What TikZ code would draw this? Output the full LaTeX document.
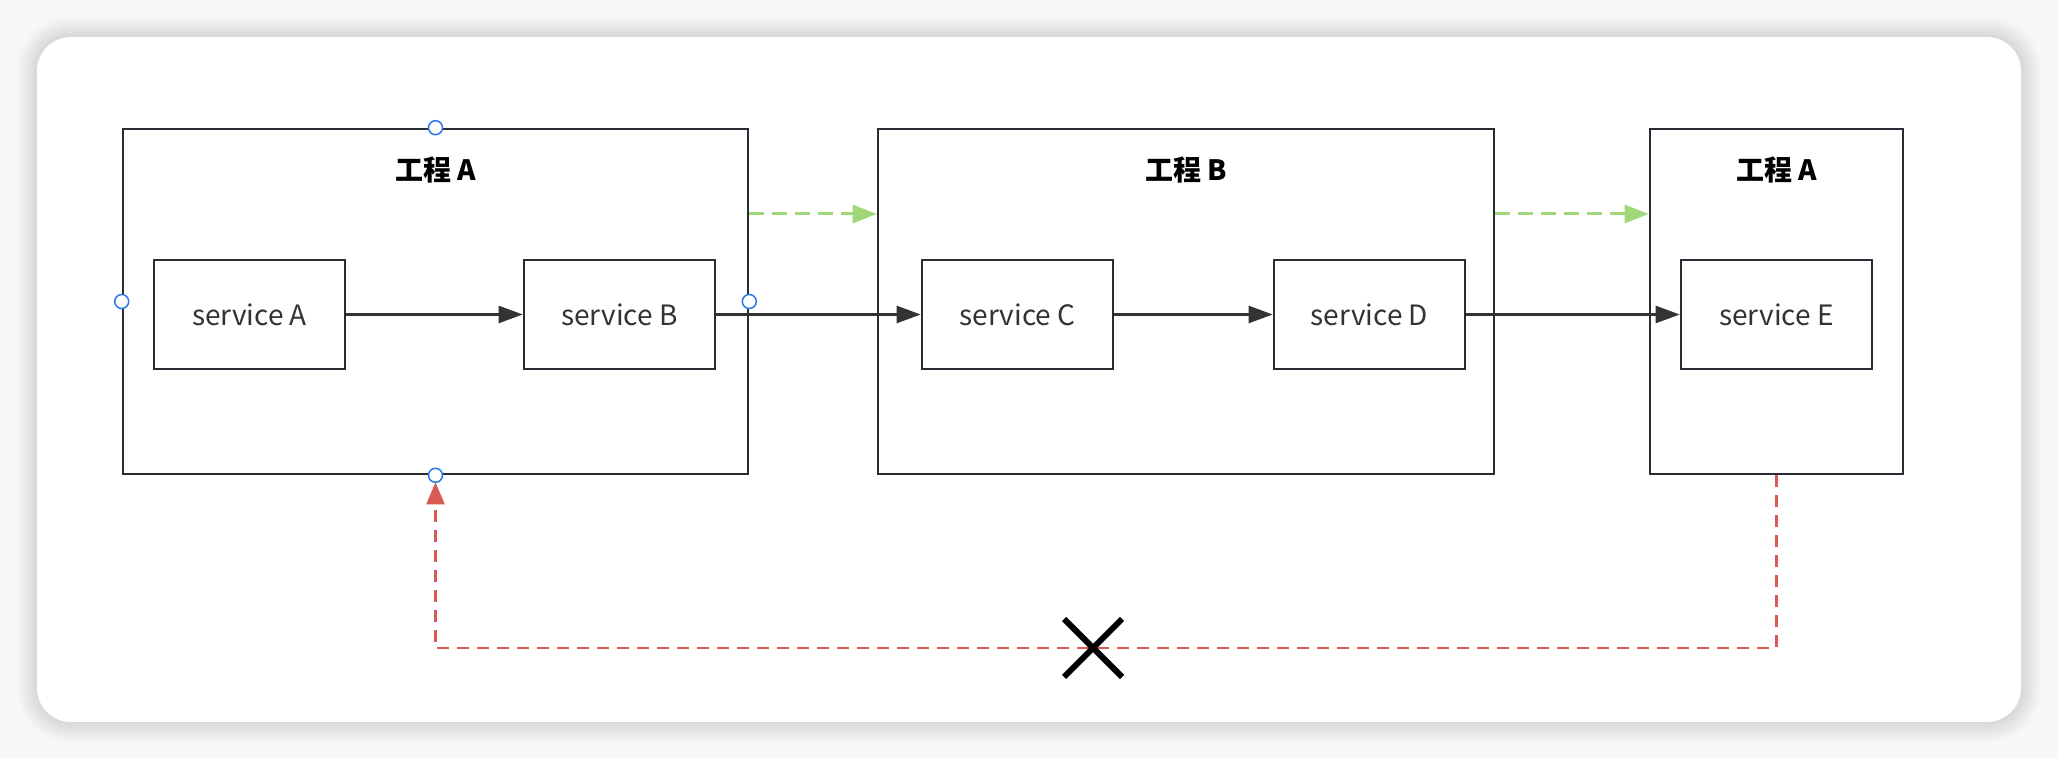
\documentclass[tikz,border=0pt]{standalone}
\usepackage{fontspec}
\setmainfont{Noto Sans CJK SC}
\usetikzlibrary{arrows.meta,%
                positioning,%
                shapes.misc}

\definecolor{box-gray}{RGB}{40,44,52}
\definecolor{text-gray}{RGB}{51,51,51}
\definecolor{flow-green}{RGB}{160,215,120}
\definecolor{back-red}{RGB}{217,90,82}
\definecolor{handle-blue}{RGB}{45,120,235}
\colorlet{page-gray}{black!3}

\tikzset{
  project/.style={draw=box-gray, line width=1.3pt, minimum height=172.5pt},
  service/.style={draw=box-gray, line width=1.3pt, minimum width=95.5pt, minimum height=54.5pt,
                  text=text-gray, font=\fontsize{14}{16}\selectfont},
  title/.style={font=\bfseries\fontsize{14}{16}\selectfont},
  call/.style={draw=text-gray, line width=1.2pt, -{Triangle[length=12pt,width=8.5pt]}},
  flow/.style={draw=flow-green, line width=1.5pt, dash pattern=on 7.5pt off 4pt,
               -{Triangle[length=12pt,width=9pt]}},
  back/.style={draw=back-red, line width=1.2pt, dash pattern=on 6pt off 4pt,
               -{Triangle[length=11pt,width=9pt]}},
  handle/.style={circle, draw=handle-blue, fill=white, line width=0.75pt,
                 minimum size=7pt, inner sep=0pt},
}

\begin{document}
\begin{tikzpicture}[x=0.5pt,y=-0.5pt]
  \useasboundingbox (0,0) rectangle (2058,758);
  \fill[page-gray] (0,0) rectangle (2058,758);

  % card with soft shadow
  \foreach \s in {1,...,10}
    \fill[black, opacity=0.012, rounded corners=17pt+\s*1pt] (37-\s*2,37-\s*2) rectangle (2021+\s*2,722+\s*2);
  \fill[white, rounded corners=17pt] (37,37) rectangle (2021,722);

  % projects
  \node[project, minimum width=312.5pt] (pa) at (435.5,301.5) {};
  \node[project, minimum width=308pt] (pb) at (1186,301.5) {};
  \node[project, minimum width=126.5pt] (pc) at (1776.5,301.5) {};

  \node[title, below=11pt of pa.north] (ta) {工程 A};
  \node[title, below=11pt of pb.north] (tb) {工程 B};
  \node[title, below=11pt of pc.north] (tc) {工程 A};

  % services
  \node[service] (sa) at (249.5,314.5) {service A};
  \node[service, right=88.2pt of sa] (sb) {service B};
  \node[service, right=102.2pt of sb] (sc) {service C};
  \node[service, right=79.2pt of sc] (sd) {service D};
  \node[service] (se) at (pc |- sa) {service E};

  \draw[call] (sa) -- (sb);
  \draw[call] (sb) -- (sc);
  \draw[call] (sc) -- (sd);
  \draw[call] (sd) -- (se);

  % project order
  \draw[flow] ([yshift=43.75pt]pa.east) -- ([yshift=43.75pt]pb.west);
  \draw[flow] ([yshift=43.75pt]pb.east) -- ([yshift=43.75pt]pc.west);

  % no way back
  \coordinate (turn) at (0,648);
  \draw[back, shorten >=3.5pt] (pc.south) |- (turn -| pa.south) -- (pa.south);
  \node[draw, cross out, line width=3pt, minimum size=26pt, inner sep=0pt] (block) at (1093,648) {};

  % handles on the selected box
  \foreach \a in {north,south,east,west}
    \node[handle] (h-\a) at (pa.\a) {};
\end{tikzpicture}
\end{document}
